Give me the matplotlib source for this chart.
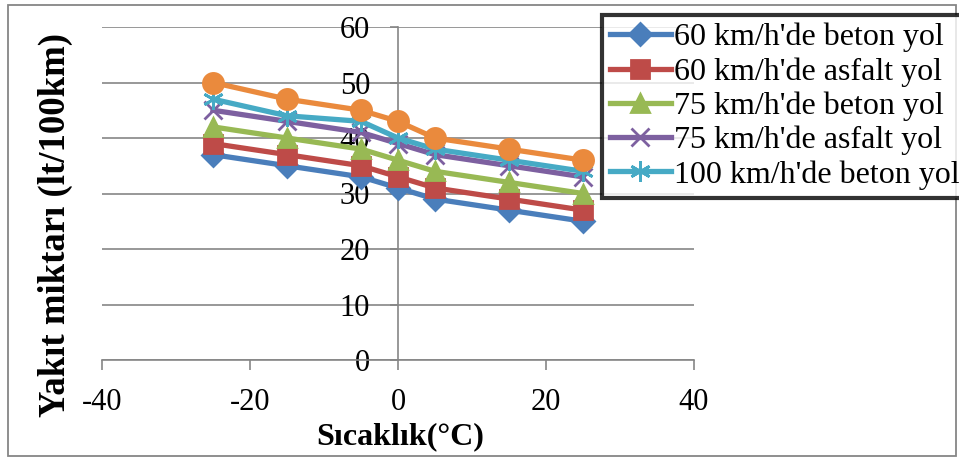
import matplotlib
matplotlib.use("Agg")
import matplotlib.pyplot as plt
from matplotlib.patches import Rectangle

# ---- data ----
temperature = [-25, -15, -5, 0, 5, 15, 25]
beton_60 = [37, 35, 33, 31, 29, 27, 25]
asfalt_60 = [39, 37, 35, 33, 31, 29, 27]
beton_75 = [42, 40, 38, 36, 34, 32, 30]
asfalt_75 = [45, 43, 41, 39, 37, 35, 33]
beton_100 = [47, 44, 43, 40, 38, 36, 34]
asfalt_100 = [50, 47, 45, 43, 40, 38, 36]

labels = ["60 km/h'de beton yol", "60 km/h'de asfalt yol", "75 km/h'de beton yol",
          "75 km/h'de asfalt yol", "100 km/h'de beton yol", "100 km/h'de asfalt yol"]
xticks = [-40, -20, 0, 20, 40]
yticks = [0, 10, 20, 30, 40, 50, 60]
xlabel = "Sıcaklık(°C)"
ylabel = "Yakıt miktarı (lt/100km)"

plt.rcParams['font.family'] = ['Liberation Serif', 'DejaVu Serif']
plt.rcParams['axes.unicode_minus'] = False

W, H = 959, 458
fig = plt.figure(figsize=(W / 100, H / 100), dpi=100)
fig.patch.set_facecolor('white')

# outer chart border
fig.patches.append(Rectangle((8 / W, 1 - 456 / H), (956 - 8) / W, (456 - 5) / H,
                             transform=fig.transFigure, fill=False,
                             edgecolor='#868686', lw=1.3, zorder=0))

left, right, top, bottom = 102, 694, 27, 360
ax = fig.add_axes([left / W, 1 - bottom / H, (right - left) / W, (bottom - top) / H])
ax.set_facecolor('none')

series = [beton_60, asfalt_60, beton_75, asfalt_75, beton_100, asfalt_100]
colors = ['#4A7EBB', '#BE4B48', '#98B954', '#7D60A0', '#46AAC5', '#EA8A3D']
markers = ['D', 's', '^', 'x', (6, 2, 0), 'o']
msizes = [11, 13, 13, 13, 15, 14.5]
handles = []
for i, (ys, c, m, ms, lab) in enumerate(zip(series, colors, markers, msizes, labels)):
    h, = ax.plot(temperature, ys, color=c, lw=3.8, marker=m, markersize=ms,
                 markerfacecolor=c, markeredgecolor=c, markeredgewidth=2,
                 label=lab, zorder=3 + i, clip_on=False)
    handles.append(h)

ax.set_xlim(-40, 40)
ax.set_ylim(0, 60)
ax.set_xticks(xticks)
ax.set_yticks(yticks)
ax.yaxis.grid(True, color='#868686', lw=1.2)
ax.set_axisbelow(True)

for s in ['top', 'right']:
    ax.spines[s].set_visible(False)
ax.spines['left'].set_position(('data', 0))
ax.spines['left'].set_color('#868686')
ax.spines['bottom'].set_color('#868686')
ax.spines['left'].set_linewidth(1.2)
ax.spines['bottom'].set_linewidth(1.2)

ax.tick_params(axis='x', direction='out', length=7, width=1.2, color='#868686',
               pad=13, labelsize=22)
ax.tick_params(axis='y', direction='out', length=6, width=1.2, color='#868686',
               pad=14, labelsize=22)

fig.text(400 / W, 1 - 437 / H, xlabel, ha='center', va='center',
         fontsize=23, fontweight='bold')
fig.text(55 / W, 1 - 225 / H, ylabel, ha='center', va='center', rotation=90,
         fontsize=26.5, fontweight='bold')

leg = fig.legend(handles[:5], labels[:5], loc='upper left',
                 bbox_to_anchor=(602 / W, 1 - 15 / H), fontsize=23,
                 frameon=True, fancybox=False, handlelength=1.9,
                 handletextpad=0.1, labelspacing=0.15, borderpad=0.25,
                 borderaxespad=0)
leg.get_frame().set_edgecolor('black')
leg.get_frame().set_linewidth(3)
leg.set_zorder(20)

fig.savefig('out.png', dpi=100, facecolor='white')
